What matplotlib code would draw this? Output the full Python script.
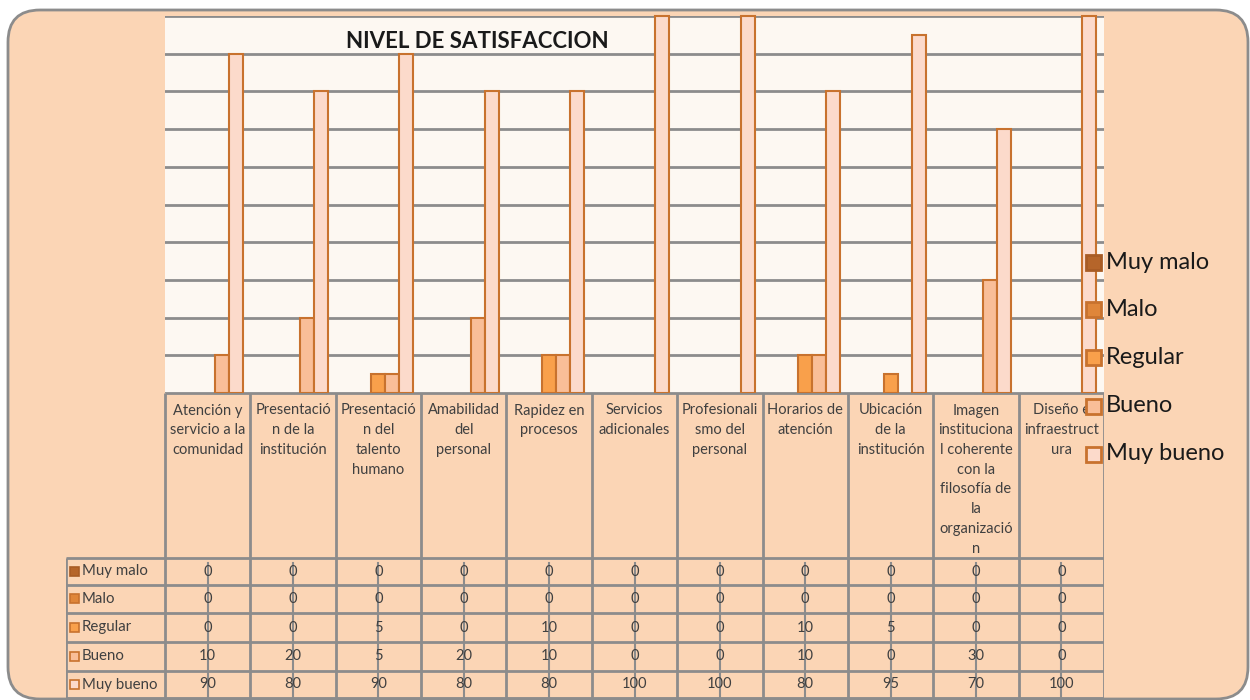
import matplotlib
matplotlib.use("Agg")
import matplotlib.pyplot as plt
from matplotlib.patches import FancyBboxPatch, Rectangle
from matplotlib.transforms import IdentityTransform
import numpy as np

plt.rcParams['font.family'] = ['Lato', 'DejaVu Sans']

# ---------------- data ----------------
categories = [
    "Atención y servicio a la comunidad",
    "Presentación de la institución",
    "Presentación del talento humano",
    "Amabilidad del personal",
    "Rapidez en procesos",
    "Servicios adicionales",
    "Profesionalismo del personal",
    "Horarios de atención",
    "Ubicación de la institución",
    "Imagen institucional coherente con la filosofía de la organización",
    "Diseño e infraestructura",
]
category_labels = [
    "Atención y\nservicio a la\ncomunidad",
    "Presentació\nn de la\ninstitución",
    "Presentació\nn del\ntalento\nhumano",
    "Amabilidad\ndel\npersonal",
    "Rapidez en\nprocesos",
    "Servicios\nadicionales",
    "Profesionali\nsmo del\npersonal",
    "Horarios de\natención",
    "Ubicación\nde la\ninstitución",
    "Imagen\ninstituciona\nl coherente\ncon la\nfilosofía de\nla\norganizació\nn",
    "Diseño e\ninfraestruct\nura",
]
series_names = ["Muy malo", "Malo", "Regular", "Bueno", "Muy bueno"]
muy_malo = [0, 0, 0, 0, 0, 0, 0, 0, 0, 0, 0]
malo = [0, 0, 0, 0, 0, 0, 0, 0, 0, 0, 0]
regular = [0, 0, 5, 0, 10, 0, 0, 10, 5, 0, 0]
bueno = [10, 20, 5, 20, 10, 0, 0, 10, 0, 30, 0]
muy_bueno = [90, 80, 90, 80, 80, 100, 100, 80, 95, 70, 100]
series_values = [muy_malo, malo, regular, bueno, muy_bueno]
title = "NIVEL DE SATISFACCION"

# ---------------- styles ----------------
face_colors = ["#B5652A", "#DF863A", "#F9A04B", "#F9BE98", "#FCDACB"]
edge_colors = ["#A85C25", "#C8722E", "#C8722E", "#C8722E", "#C8722E"]
bg = "#FBD5B5"
plot_bg = "#FDF8F2"
grid_c = "#8C8C8C"
txt_c = "#404040"

W, H = 1250, 700
fig = plt.figure(figsize=(W / 100, H / 100), dpi=100)
fig.patch.set_facecolor("white")

# rounded background
bgpatch = FancyBboxPatch((8, 1), 1240, 689,
                         boxstyle="round,pad=0,rounding_size=32",
                         transform=IdentityTransform(), facecolor=bg,
                         edgecolor="#8C8C8C", linewidth=2, zorder=-5)
fig.patches.append(bgpatch)


def px_axes(x0, y0, x1, y1):
    return fig.add_axes([x0 / W, 1 - y1 / H, (x1 - x0) / W, (y1 - y0) / H])


# ---------------- main chart ----------------
PL, PR, PT, PB = 165, 1104, 16, 393
ax = px_axes(PL, PT, PR, PB)
ax.set_facecolor(plot_bg)
n = len(categories)
ax.set_xlim(-0.5, n - 0.5)
ax.set_ylim(0, 100)
for s in ax.spines.values():
    s.set_visible(False)
ax.set_xticks([])
ax.set_yticks([])
for g in range(0, 101, 10):
    ax.axhline(g, color=grid_c, lw=2, zorder=1)

x = np.arange(n)
bw = 0.164
for i, (vals, fc, ec) in enumerate(zip(series_values, face_colors, edge_colors)):
    ecs = [ec if v > 0 else "none" for v in vals]
    ax.bar(x + (i - 2) * bw, vals, width=bw, color=fc, edgecolor=ecs,
           linewidth=1.5, zorder=3, clip_on=False)

fig.text(477 / W, 1 - 42 / H, title, ha="center", va="center",
         fontsize=16, fontweight="bold", color="#1a1a1a", zorder=6)

# ---------------- data table ----------------
TL = 66
cw = (PR - PL) / n
tax = px_axes(TL, PB, PR, 699)
tax.set_xlim(-0.5 - (PL - TL) / cw, n - 0.5)
tax.set_ylim(699, PB)
tax.axis("off")
tax.patch.set_alpha(0)

row_edges = [558, 585, 613, 642, 671, 698]
lk = dict(color=grid_c, lw=2, solid_capstyle="butt")
x_left = -0.5 - (PL - TL) / cw
# axis line
tax.plot([-0.5, n - 0.5], [PB, PB], **lk)
# vertical boundaries
for b in np.arange(-0.5, n, 1.0):
    tax.plot([b, b], [PB, row_edges[-1]], **lk)
tax.plot([x_left, x_left], [row_edges[0], row_edges[-1]], **lk)
for r in row_edges:
    tax.plot([x_left, n - 0.5], [r, r], **lk)
# tick marks
for c in x:
    tax.plot([c, c], [PB - 7, PB], color=grid_c, lw=1.5)
    tax.plot([c, c], [563, row_edges[-1]], color=grid_c, lw=1.5)

for c, lab in zip(x, category_labels):
    tax.text(c, 403.5, lab, ha="center", va="top", fontsize=10.5,
             color=txt_c, linespacing=1.52)

for ri, (name, vals) in enumerate(zip(series_names, series_values)):
    yc = (row_edges[ri] + row_edges[ri + 1]) / 2
    tax.add_patch(Rectangle((x_left + 4 / cw, yc - 5), 9 / cw, 9,
                            facecolor=face_colors[ri], edgecolor=edge_colors[ri],
                            lw=1.2, clip_on=False))
    tax.text(x_left + 16 / cw, yc, name, ha="left", va="center",
             fontsize=10.8, color=txt_c)
    for c, v in zip(x, vals):
        tax.text(c, yc, str(v), ha="center", va="center", fontsize=10.5,
                 color=txt_c)

# ---------------- legend ----------------
leg_y = [262, 309, 357, 406, 454]
for name, fc, ec, ly in zip(series_names, face_colors, edge_colors, leg_y):
    fig.patches.append(Rectangle((1086, H - ly - 8), 15, 15,
                                 transform=IdentityTransform(),
                                 facecolor=fc, edgecolor=ec, lw=2, zorder=5))
    fig.text(1106 / W, 1 - ly / H, name, ha="left", va="center",
             fontsize=17, color="#1a1a1a", zorder=6)

fig.savefig("out.png", dpi=100, facecolor="white")
